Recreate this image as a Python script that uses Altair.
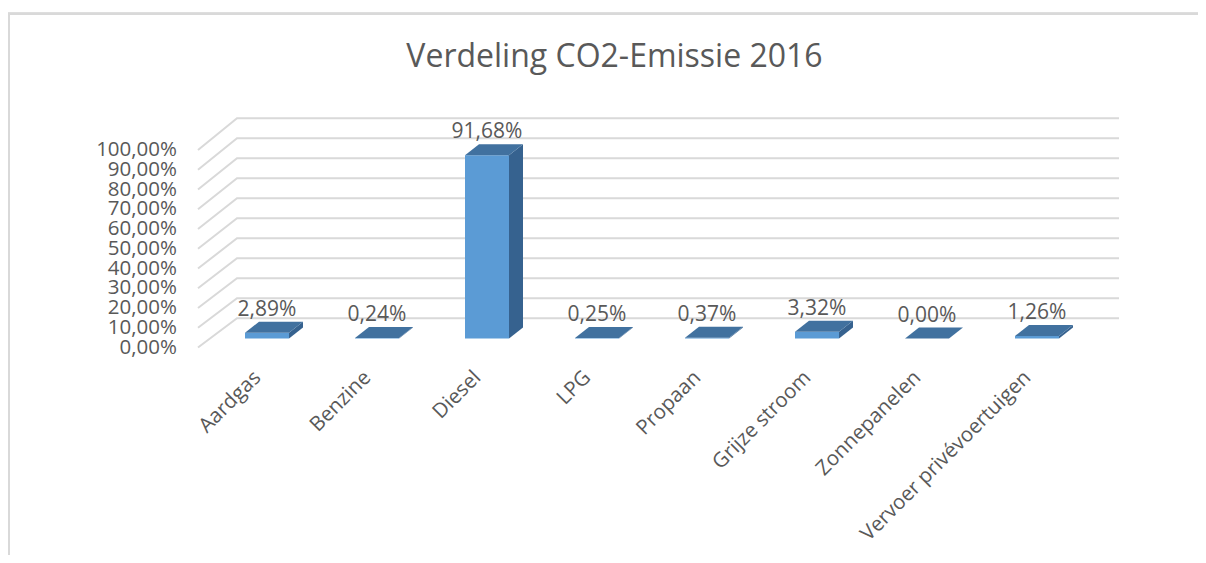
import altair as alt
import pandas as pd

# ---- data ----
categories = ["Aardgas", "Benzine", "Diesel", "LPG", "Propaan",
              "Grijze stroom", "Zonnepanelen", "Vervoer privévoertuigen"]
values = [2.89, 0.24, 91.68, 0.25, 0.37, 3.32, 0.00, 1.26]
ticks = [0, 10, 20, 30, 40, 50, 60, 70, 80, 90, 100]
tick_labels = [f"{t:.2f}".replace(".", ",") + "%" for t in ticks]
value_labels = [f"{v:.2f}".replace(".", ",") + "%" for v in values]
title_text = "Verdeling CO2-Emissie 2016"

# ---- 3D projection style parameters ----
W, H = 1190, 547
XDOM = [-2.35455, 8.46364]
YDOM = [-108.25, 165.25]
HALF = 0.2          # half bar width (category units)
D = 0.1273          # bar depth, horizontal (category units)
DY = 5.5            # bar depth, vertical (value units)
WALL = 10.1         # back wall offset (value units)
FLOOR_X = -0.6273   # front-left corner of floor
WALL_X = -0.2727    # back-left corner of wall
RIGHT_X = 7.7455    # right end of back wall
CAT_SHIFT = -0.15   # category label anchor shift (category units)
FONT = "Open Sans"
TXT = "#595959"
GRID = "#D9D9D9"

xs = alt.Scale(domain=XDOM, nice=False, zero=False)
ys = alt.Scale(domain=YDOM, nice=False, zero=False)

bars = pd.DataFrame({"cat": categories, "i": range(len(categories)),
                     "v": values, "lab": value_labels})
bars["x1"] = bars["i"] - HALF
bars["x2"] = bars["i"] + HALF
bars["y0"] = 0.0
bars["ylab"] = bars["v"] + DY + 6
bars["xcat"] = bars["i"] + CAT_SHIFT
bars["ycat"] = -14.5

side_rows, top_rows = [], []
for i, (c, v) in enumerate(zip(categories, values)):
    side_rows.append({"cat": c, "x": i + HALF, "yt": v, "yb": 0.0})
    side_rows.append({"cat": c, "x": i + HALF + D, "yt": v + DY, "yb": DY})
    top_rows.append({"cat": c, "y": v, "xl": i - HALF, "xr": i + HALF})
    top_rows.append({"cat": c, "y": v + DY, "xl": i - HALF + D, "xr": i + HALF + D})
side = pd.DataFrame(side_rows)
top = pd.DataFrame(top_rows)

grid_rows = []
for t in ticks:
    grid_rows.append({"t": t, "o": 0, "x": FLOOR_X, "y": t * 0.9875 - 4.5})
    grid_rows.append({"t": t, "o": 1, "x": WALL_X, "y": t + WALL})
    grid_rows.append({"t": t, "o": 2, "x": RIGHT_X, "y": t + WALL})
grid = pd.DataFrame(grid_rows)

ylabels = pd.DataFrame({"lab": tick_labels, "x": FLOOR_X,
                        "y": [t * 0.9875 - 4.5 for t in ticks]})

grid_layer = alt.Chart(grid).mark_line(color=GRID, strokeWidth=2).encode(
    x=alt.X("x:Q", scale=xs, axis=None),
    y=alt.Y("y:Q", scale=ys, axis=None),
    detail="t:N", order="o:Q")

ylab_layer = alt.Chart(ylabels).mark_text(
    font=FONT, fontSize=20.5, color=TXT, align="right", baseline="middle", dx=-21
).encode(x=alt.X("x:Q", scale=xs), y=alt.Y("y:Q", scale=ys), text="lab:N")

front_layer = alt.Chart(bars).mark_bar(color="#5B9BD5").encode(
    x=alt.X("x1:Q", scale=xs), x2="x2:Q",
    y=alt.Y("y0:Q", scale=ys), y2="v:Q")

side_layer = alt.Chart(side).mark_area(color="#36628F", orient="vertical").encode(
    x=alt.X("x:Q", scale=xs),
    y=alt.Y("yt:Q", scale=ys, stack=None), y2="yb:Q",
    detail="cat:N")

top_layer = alt.Chart(top).mark_area(color="#41719F", orient="horizontal").encode(
    y=alt.Y("y:Q", scale=ys),
    x=alt.X("xl:Q", scale=xs, stack=None), x2="xr:Q",
    detail="cat:N")

vlab_layer = alt.Chart(bars).mark_text(
    font=FONT, fontSize=21, color=TXT, align="center", baseline="middle"
).encode(x=alt.X("i:Q", scale=xs), y=alt.Y("ylab:Q", scale=ys), text="lab:N")

cat_layer = alt.Chart(bars).mark_text(
    font=FONT, fontSize=20.5, color=TXT, align="right", baseline="top",
    angle=315
).encode(x=alt.X("xcat:Q", scale=xs), y=alt.Y("ycat:Q", scale=ys), text="cat:N")

frame_top = alt.Chart(bars).mark_rule(color=GRID, strokeWidth=2).encode(
    x=alt.value(0), x2=alt.value(W), y=alt.value(5.7))
frame_left = alt.Chart(bars).mark_rule(color=GRID, strokeWidth=2).encode(
    x=alt.value(1), y=alt.value(5.7), y2=alt.value(H))

chart = alt.layer(
    frame_top, frame_left, grid_layer, ylab_layer,
    front_layer, side_layer, top_layer, vlab_layer, cat_layer
).properties(
    width=W, height=H,
    autosize=alt.AutoSizeParams(type="none"),
    padding=0,
    background="white",
    title=alt.TitleParams(title_text, font=FONT, fontSize=32, color=TXT,
                          fontWeight="normal", anchor="middle", dx=11.5,
                          dy=91, offset=0, baseline="alphabetic"),
).configure_view(stroke=None)

chart.save("out.html", embed_options={"renderer": "svg", "actions": False})
